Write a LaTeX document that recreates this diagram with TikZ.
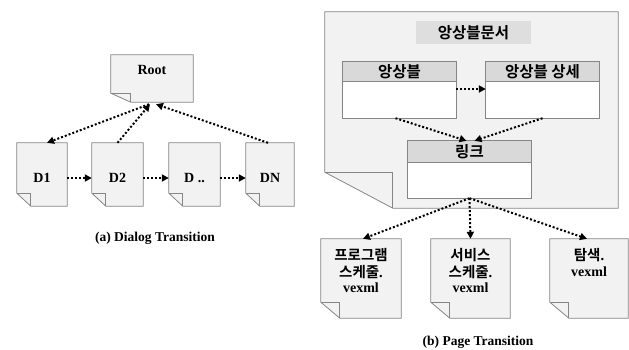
\documentclass[tikz,border=0pt]{standalone}
\usepackage{fontspec}
\setmainfont{Liberation Serif}
\newfontfamily\kr{Noto Sans CJK KR}[BoldFont={Noto Sans CJK KR Bold}]
\usetikzlibrary{arrows.meta,calc}
\definecolor{docgray}{HTML}{F2F2F2}
\definecolor{edgegray}{HTML}{858585}
\definecolor{headgray}{HTML}{D9D9D9}
\definecolor{titlegray}{HTML}{DEDEDE}
\tikzset{
  docnode/.style={inner sep=0pt, draw=none},
  docline/.style={draw=edgegray, line width=0.8pt, fill=docgray, line join=miter},
  flapline/.style={draw=edgegray, line width=0.8pt},
  tabline/.style={draw=edgegray, line width=0.8pt},
  lat/.style={font=\bfseries\fontsize{14}{17}\selectfont, align=center, inner sep=0pt},
  krdoc/.style={font=\kr\bfseries\fontsize{14.5}{17}\selectfont, align=center, inner sep=0pt},
  krl/.style={font=\kr\bfseries\fontsize{15.5}{18}\selectfont, align=center, inner sep=0pt},
  captext/.style={font=\bfseries\fontsize{13.5}{16}\selectfont, inner sep=0pt},
  flow/.style={line width=2pt, dash pattern=on 2pt off 2pt, -{Triangle[length=7pt,width=7pt]}}
}
\newcommand\docshape[3]{%
  \filldraw[docline] (#1.north west) -- (#1.north east) -- (#1.south east) -- ([xshift=#2]#1.south west) -- ([yshift=#3]#1.south west) -- cycle;
  \draw[flapline] ([yshift=#3]#1.south west) -- ([xshift=#2,yshift=#3]#1.south west) -- ([xshift=#2]#1.south west);}
\begin{document}
\begin{tikzpicture}[x=1pt,y=-1pt]
\useasboundingbox (0,0) rectangle (629,349);

% ---------- (a) Dialog Transition ----------
\node[docnode, minimum width=82pt, minimum height=47pt] (root) at (152,78.5) {};
\docshape{root}{20}{9}
\node[lat] (roott) at (152,70) {Root};

\node[docnode, minimum width=50pt, minimum height=63pt] (d1) at (42,174.5) {};
\docshape{d1}{14}{13}
\node[lat] (d1t) at (42,178) {D1};

\node[docnode, minimum width=51pt, minimum height=63pt] (d2) at (117.5,174.5) {};
\docshape{d2}{14}{13}
\node[lat] (d2t) at (117.5,178) {D2};

\node[docnode, minimum width=51pt, minimum height=63pt] (dd) at (194.5,174.5) {};
\docshape{dd}{14}{13}
\node[lat] (ddt) at (194.5,178) {D ..};

\node[docnode, minimum width=48pt, minimum height=63pt] (dn) at (270,174.5) {};
\docshape{dn}{14}{13}
\node[lat] (dnt) at (270,178) {DN};

\draw[flow] (d1.east |- d1t) -- (d2.west |- d2t);
\draw[flow] (d2.east |- d2t) -- (dd.west |- ddt);
\draw[flow] (dd.east |- ddt) -- (dn.west |- dnt);
\draw[flow] ([xshift=-3pt,yshift=-2pt]root.south) -- ([xshift=5pt]d1.north);
\draw[flow] (d2.north) -- ([xshift=-2pt,yshift=-2pt]root.south);
\draw[flow] ([xshift=-2pt]dn.north) -- ([xshift=4pt,yshift=-2pt]root.south);

\node[captext] (capa) at (155,238) {(a) Dialog Transition};

% ---------- (b) Page Transition ----------
\node[docnode, minimum width=293pt, minimum height=196pt] (page) at (471.5,110) {};
\docshape{page}{68}{36}

\node[fill=titlegray, minimum width=115pt, minimum height=23pt, inner sep=0pt, krl] (title) at (473.5,32.5) {앙상블문서};

\node[docnode, minimum width=113pt, minimum height=56pt] (ens) at (399.5,90) {};
\draw[tabline, fill=white] (ens.north west) rectangle (ens.south east);
\draw[tabline, fill=headgray] (ens.north west) rectangle ([yshift=-20pt]ens.north east);
\node[krl] (enst) at ($(ens.north)+(0,10)$) {앙상블};

\node[docnode, minimum width=113pt, minimum height=56pt] (ensd) at (542.5,90) {};
\draw[tabline, fill=white] (ensd.north west) rectangle (ensd.south east);
\draw[tabline, fill=headgray] (ensd.north west) rectangle ([yshift=-20pt]ensd.north east);
\node[krl] (ensdt) at ($(ensd.north)+(0,10)$) {앙상블 상세};

\node[docnode, minimum width=123pt, minimum height=57pt] (link) at (469.5,169.5) {};
\draw[tabline, fill=white] (link.north west) rectangle (link.south east);
\draw[tabline, fill=headgray] (link.north west) rectangle ([yshift=-22pt]link.north east);
\node[krl] (linkt) at ($(link.north)+(0,11)$) {링크};

\draw[flow] ($(ens.east)+(0,-1)$) -- ($(ensd.west)+(0,-1)$);
\draw[flow] ([xshift=-4pt]ens.south) -- ([xshift=-3pt]link.north);
\draw[flow] (ensd.south) -- ([xshift=5pt]link.north);

\node[docnode, minimum width=80pt, minimum height=79pt] (prog) at (361,278.5) {};
\docshape{prog}{19}{16}
\node[krdoc] (progt) at (361,255) {프로그램};
\node[krdoc] (progt2) at (361,272) {스케줄\rmfamily .};
\node[lat] (progt3) at (361,288) {vexml};

\node[docnode, minimum width=79pt, minimum height=79pt] (svc) at (470.5,278.5) {};
\docshape{svc}{19}{16}
\node[krdoc] (svct) at (470.5,255) {서비스};
\node[krdoc] (svct2) at (470.5,272) {스케줄\rmfamily .};
\node[lat] (svct3) at (470.5,288) {vexml};

\node[docnode, minimum width=78pt, minimum height=79pt] (srch) at (589,278.5) {};
\docshape{srch}{19}{16}
\node[krdoc] (srcht) at (589,255) {탐색\rmfamily .};
\node[lat] (srcht2) at (589,272) {vexml};

\draw[flow] (link.south) -- ([xshift=2pt]prog.north);
\draw[flow] (link.south) -- (svc.north);
\draw[flow] (link.south) -- ([xshift=-2pt]srch.north);

\node[captext] (capb) at (478,342) {(b) Page Transition};
\end{tikzpicture}
\end{document}
